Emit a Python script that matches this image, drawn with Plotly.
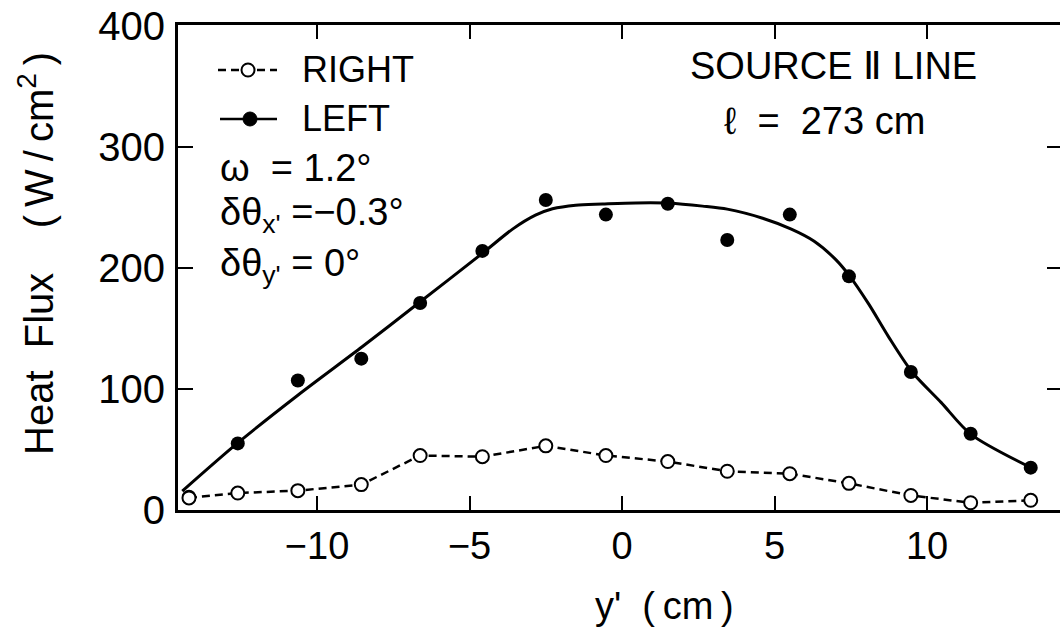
import plotly.graph_objects as go

# ---- data ----
y_pos = [-14.2, -12.6, -10.63, -8.55, -6.62, -4.58, -2.5, -0.53, 1.5, 3.45, 5.5, 7.44, 9.47, 11.43, 13.4]
left_flux = [11, 55, 107, 125, 171, 214, 256, 244, 253, 223, 244, 193, 114, 63, 35]
right_flux = [10, 14, 16, 21, 45, 44, 53, 45, 40, 32, 30, 22, 12, 6, 8]

# smooth hand-drawn fit through LEFT data
fit_x = [-14.42, -12.64, -10.62, -8.51, -6.66, -4.58, -3.59, -2.84, -2.28, -1.52, -0.64, 0.45,
         1.56, 2.64, 3.45, 4.61, 5.55, 6.3, 7.0, 7.44, 8.09, 8.74, 9.51, 10.46, 11.43, 13.39]
fit_y = [15.6, 54.6, 95.0, 135.0, 171.2, 212.0, 232.0, 243.5, 248.8, 251.8, 252.7, 253.6,
         253.4, 251.0, 248.5, 241.0, 232.0, 222.0, 207.0, 194.0, 170.0, 143.0, 114.0, 88.9, 62.7, 35.2]

x_ticks = [-10, -5, 0, 5, 10]
y_ticks = [0, 100, 200, 300, 400]
y_tick_text = ["0", "100", "200", "300", "400"]
right_ticks = [100, 200, 300]

F = "Liberation Sans, Arial, sans-serif"
NB = "\u00a0"

# plot-area pixel frame (used only to place text/legend decorations)
L, R, T, B = 178, 1060, 25, 510
def px(x):
    return (x - L) / (R - L)
def py(y):
    return (B - y) / (B - T)

def ann(text, xp, yp, size, xanchor="left", **kw):
    return dict(text=text, x=px(xp), y=py(yp), xref="paper", yref="paper",
                xanchor=xanchor, yanchor="middle", showarrow=False,
                font=dict(size=size, family=F, color="black"), **kw)

fig = go.Figure()

fig.add_trace(go.Scatter(
    x=fit_x, y=fit_y, mode="lines", yaxis="y2",
    line=dict(color="black", width=3, shape="spline", smoothing=0.8),
    showlegend=False, hoverinfo="skip"))

fig.add_trace(go.Scatter(
    x=y_pos, y=left_flux, mode="markers", name="LEFT",
    marker=dict(symbol="circle", size=14, color="black"),
    showlegend=False))

fig.add_trace(go.Scatter(
    x=y_pos, y=right_flux, mode="lines+markers", name="RIGHT",
    line=dict(color="black", width=2.5, dash="8px,5px"),
    marker=dict(symbol="circle", size=13, color="white",
                line=dict(color="black", width=2)),
    showlegend=False))

annotations = [
    ann("RIGHT", 300, 69, 36),
    ann("LEFT", 300, 119, 36),
    ann("\u03c9" + NB + NB + "= 1.2\u00b0", 218, 168, 38),
    ann("\u03b4\u03b8<sub>x'</sub> =\u22120.3\u00b0", 218, 215, 38),
    ann("\u03b4\u03b8<sub>y'</sub> = 0\u00b0", 218, 266, 38),
    ann("SOURCE \u2161 LINE", 833, 66, 38, xanchor="center"),
    ann("\u2113" + NB * 2 + "=" + NB * 2 + "273" + NB + "cm", 824, 121, 38, xanchor="center"),
    ann("Heat" + NB * 2 + "Flux" + NB * 4 + "(\u2009W\u2009/\u2009cm<sup>2</sup>\u2009)",
        36, 254, 40, xanchor="center", textangle=-90),
    ann("y'" + NB * 2 + "(\u2009cm\u2009)", 664, 606, 38, xanchor="center"),
]

shapes = [
    dict(type="line", xref="paper", yref="paper", x0=px(218), x1=px(277),
         y0=py(70), y1=py(70), line=dict(color="black", width=2.5, dash="8px,5px")),
    dict(type="circle", xref="paper", yref="paper", xsizemode="pixel", ysizemode="pixel",
         xanchor=px(248), yanchor=py(70), x0=-6.5, x1=6.5, y0=-6.5, y1=6.5,
         fillcolor="white", line=dict(color="black", width=2)),
    dict(type="line", xref="paper", yref="paper", x0=px(220), x1=px(277),
         y0=py(119), y1=py(119), line=dict(color="black", width=2.5)),
    dict(type="circle", xref="paper", yref="paper", xsizemode="pixel", ysizemode="pixel",
         xanchor=px(250), yanchor=py(119), x0=-7, x1=7, y0=-7, y1=7,
         fillcolor="black", line=dict(color="black", width=1)),
]

fig.update_layout(
    width=1060, height=634,
    margin=dict(l=L, r=1060 - R, t=T, b=634 - B, autoexpand=False),
    paper_bgcolor="white", plot_bgcolor="white",
    font=dict(family=F, color="black"),
    showlegend=False,
    xaxis=dict(range=[-14.56, 14.36], tickvals=x_ticks, ticks="inside", ticklen=14,
               tickwidth=2, tickcolor="black", showline=True, linewidth=3,
               linecolor="black", mirror="ticks", showgrid=False, zeroline=False,
               tickfont=dict(size=38, family=F, color="black"), ticklabelstandoff=0),
    yaxis=dict(range=[0, 400.6], tickvals=y_ticks, ticktext=y_tick_text, ticks="inside",
               ticklen=15, tickwidth=2, tickcolor="black", showline=True, linewidth=3,
               linecolor="black", showgrid=False, zeroline=False,
               ticklabeloverflow="allow",
               tickfont=dict(size=40, family=F, color="black"), ticklabelstandoff=2),
    yaxis2=dict(range=[0, 400.6], overlaying="y", side="right", anchor="x",
                tickvals=right_ticks, ticks="inside", ticklen=13, tickwidth=2,
                tickcolor="black", showticklabels=False, showline=False,
                showgrid=False, zeroline=False),
    annotations=annotations,
    shapes=shapes,
)

fig.write_html("out.html", config={"displayModeBar": False},
               post_script="document.body.style.margin='0px';")
